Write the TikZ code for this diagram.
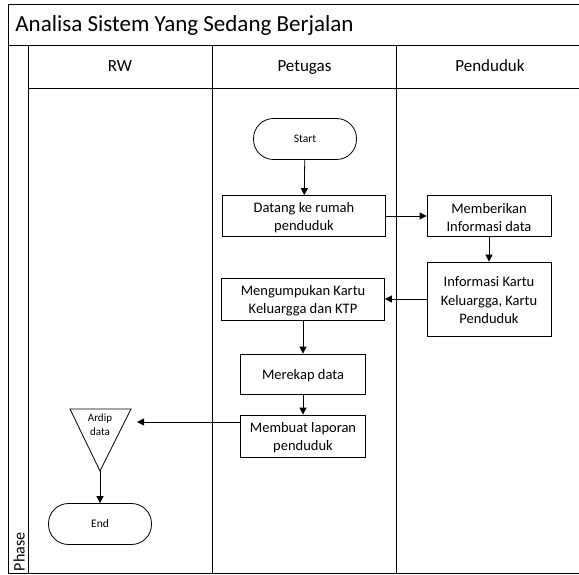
\documentclass[tikz,border=0pt]{standalone}
\usepackage{fontspec}
\setmainfont{Carlito}
\usetikzlibrary{arrows.meta}
\begin{document}
\begin{tikzpicture}[x=1pt,y=-1pt,
  line width=0.8pt,
  frame/.style={draw=black, line width=0.9pt},
  procfont/.style={font=\fontsize{14.5}{18.5}\selectfont},
  procbox/.style={draw, rectangle, inner sep=0pt},
  boxtext/.style={label={[procfont, align=center, inner sep=0pt, yshift=-1.5pt]center:#1}},
  termbox/.style={draw, rectangle, rounded corners=20pt, inner sep=0pt, minimum width=103pt, minimum height=41pt, font=\fontsize{11.5}{13}\selectfont},
  lanehead/.style={font=\fontsize{17}{20}\selectfont},
  flow/.style={draw, -{Triangle[length=7pt,width=7pt]}}
]
\useasboundingbox (0,0) rectangle (579,575);

% swimlane frame (right edge runs past the page)
\draw[frame] (590,4.5) -- (8,4.5) -- (8,573) -- (590,573);
\draw[frame] (8,45) -- (590,45);
\draw[frame] (28,88) -- (590,88);
\draw[frame] (28,45) -- (28,573);
\draw[frame] (212.5,45) -- (212.5,573);
\draw[frame] (396,45) -- (396,573);

% title and lane headers
\node[anchor=base west, inner sep=0pt, font=\fontsize{23}{27}\selectfont] (title) at (15,32) {Analisa Sistem Yang Sedang Berjalan};
\node[lanehead, anchor=base] (hrw) at (120,72) {RW};
\node[lanehead, anchor=base] (hpet) at (304.5,72) {Petugas};
\node[lanehead, anchor=base] (hpen) at (490,72) {Penduduk};
\node[rotate=90, anchor=base west, font=\fontsize{16}{19}\selectfont, inner sep=0pt] (phase) at (24.5,571.5) {Phase};

% flow nodes
\node[termbox] (start) at (305,139) {Start};
\node[procbox, minimum width=163pt, minimum height=41pt, boxtext={Datang ke rumah\\penduduk}] (datang) at (304,216) {};
\node[procbox, minimum width=124pt, minimum height=41pt, boxtext={Memberikan\\Informasi data}] (beri) at (489,216) {};
\node[procbox, minimum width=124pt, minimum height=74pt, boxtext={Informasi Kartu\\Keluargga, Kartu\\Penduduk}] (info) at (489,299) {};
\node[procbox, minimum width=163pt, minimum height=42pt, boxtext={Mengumpukan Kartu\\Keluargga dan KTP}] (kumpul) at (303,299) {};
\node[procbox, minimum width=125pt, minimum height=40pt, boxtext={Merekap data}] (rekap) at (303,374) {};
\node[procbox, minimum width=125pt, minimum height=42pt, boxtext={Membuat laporan\\penduduk}] (lapor) at (303,436) {};

% archive triangle
\coordinate (ardtl) at (70,409);
\coordinate (ardtr) at (131,409);
\coordinate (ardapex) at (100,471);
\coordinate (ardin) at (137,422);
\draw (ardtl) -- (ardtr) -- (ardapex) -- cycle;
\node[align=center, font=\fontsize{11}{14}\selectfont] (ardip) at (100,425) {Ardip\\data};

\node[termbox] (end) at (100,524) {End};

% connectors
\draw[flow] (start) -- (datang);
\draw[flow] (datang) -- (beri);
\draw[flow] (beri) -- (info);
\draw[flow] (info) -- (kumpul);
\draw[flow] (kumpul) -- (rekap);
\draw[flow] (rekap) -- (lapor);
\draw[flow] (lapor.west |- ardin) -- (ardin);
\draw[flow] (ardapex) -- (end);
\end{tikzpicture}
\end{document}
